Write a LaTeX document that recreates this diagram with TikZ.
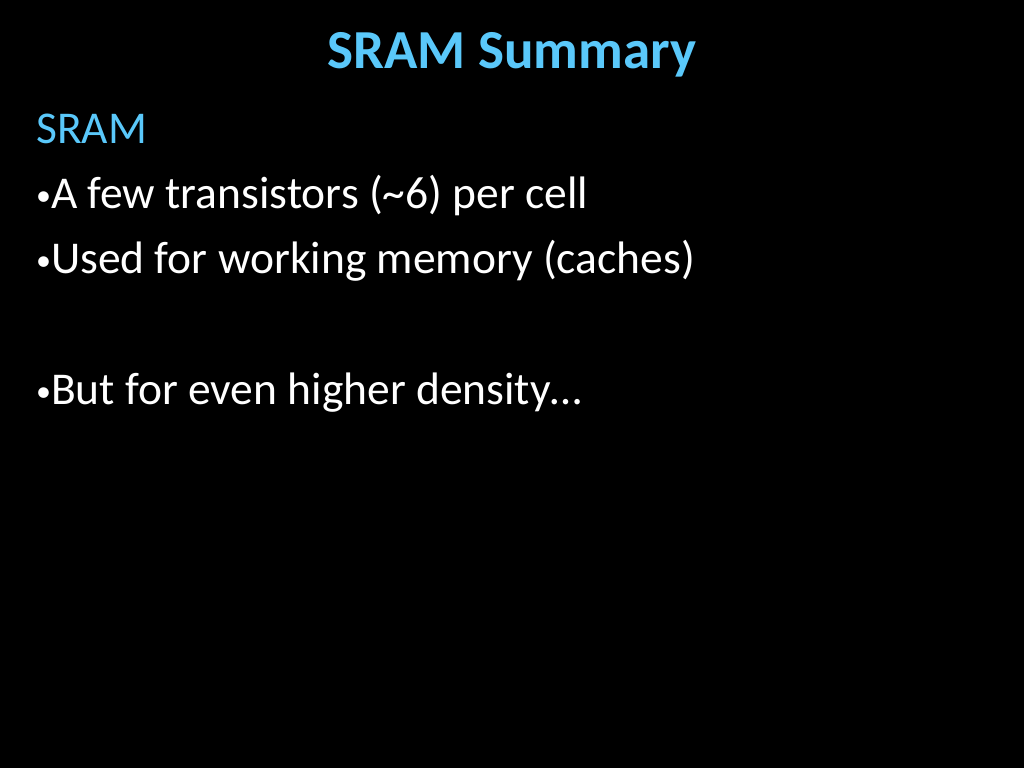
\documentclass[tikz,border=0pt]{standalone}
\usepackage{fontspec}
\setmainfont{Carlito}
\definecolor{titleblue}{RGB}{90,200,250}
\newcommand{\smallbul}{{\fontsize{30}{30}\selectfont\raisebox{3pt}{\textbullet}}}
\begin{document}
\begin{tikzpicture}[x=1pt,y=-1pt,inner sep=0pt,
  body/.style={anchor=base west,white,font=\fontsize{45.5}{54}\selectfont}]
\fill[black] (0,0) rectangle (1024,768);
\useasboundingbox (0,0) rectangle (1024,768);
%Title
\node [anchor=base,titleblue,font=\fontsize{55}{64}\selectfont\bfseries] (Title) at (512,68) {SRAM Summary};
%Items
\node [body,titleblue] (Head) at (36,143) {SRAM};
\node [body] (Item1) at (36,208) {\smallbul A few transistors (\textasciitilde 6) per cell};
\node [body] (Item2) at (36,273) {\smallbul Used for working memory (caches)};
\node [body] (Item3) at (36,404) {\smallbul But for even higher density…};
\end{tikzpicture}
\end{document}
